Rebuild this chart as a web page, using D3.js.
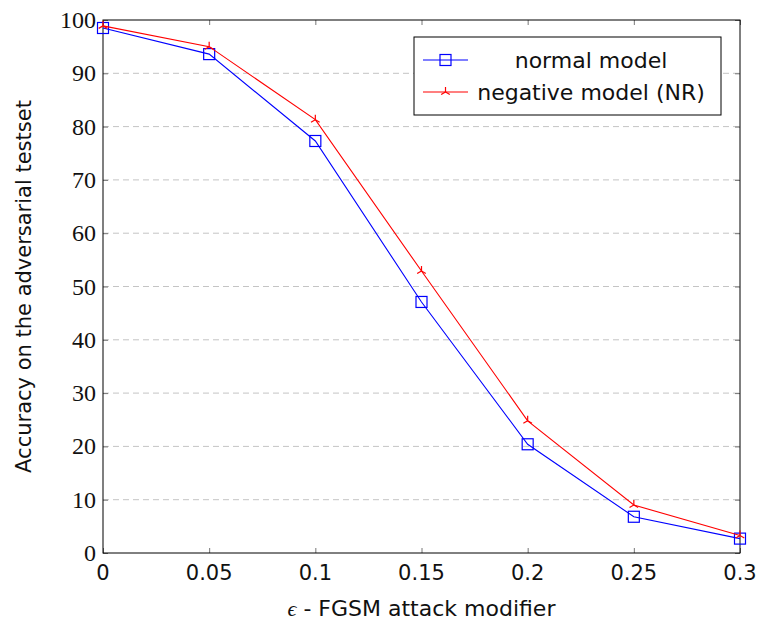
<!DOCTYPE html>
<html lang="en">
<head>
<meta charset="UTF-8">
<title>FGSM accuracy</title>
<script src="https://d3js.org/d3.v7.min.js"></script>
<style>
  body { margin: 0; background: #fff; }
  svg { display: block; }
</style>
</head>
<body>
<div id="chart"></div>
<script>
// data
var epsilons = [0, 0.05, 0.1, 0.15, 0.2, 0.25, 0.3];
var normalModel = [98.5, 93.6, 77.3, 47.1, 20.4, 6.8, 2.7];
var negativeModel = [98.9, 95.0, 81.3, 52.9, 24.8, 9.0, 3.3];
var xTicks = [0, 0.05, 0.1, 0.15, 0.2, 0.25, 0.3];
var xTickLabels = ['0', '0.05', '0.1', '0.15', '0.2', '0.25', '0.3'];
var yTicks = [0, 10, 20, 30, 40, 50, 60, 70, 80, 90, 100];
var seriesNames = ['normal model', 'negative model (NR)'];

var width = 762, height = 625;
var plotLeft = 103, plotRight = 740, plotTop = 20, plotBottom = 553;
var sansFont = "'DejaVu Sans', 'Open Sans', sans-serif";
var serifFont = "'Liberation Serif', 'DejaVu Serif', serif";

var svg = d3.select('#chart').append('svg')
    .attr('width', width)
    .attr('height', height);

var x = d3.scaleLinear().domain([0, 0.3]).range([plotLeft, plotRight]);
var y = d3.scaleLinear().domain([0, 100]).range([plotBottom, plotTop]);

// grid lines
svg.append('g')
    .selectAll('line')
    .data(yTicks.filter(d => d > 0 && d < 100))
    .join('line')
    .attr('x1', plotLeft).attr('x2', plotRight)
    .attr('y1', d => y(d)).attr('y2', d => y(d))
    .attr('stroke', '#c4c4c4')
    .attr('stroke-width', 1)
    .attr('stroke-dasharray', '6,4');

// ticks (inward, on all sides)
var tickLen = 5;
function ticks(axis, tx, ty) {
    svg.append('g')
        .attr('transform', 'translate(' + tx + ',' + ty + ')')
        .call(axis.tickSize(-tickLen).tickFormat(''))
        .call(g => g.select('.domain').remove())
        .selectAll('line').attr('stroke', '#777');
}
ticks(d3.axisBottom(x).tickValues(xTicks), 0, plotBottom);
ticks(d3.axisTop(x).tickValues(xTicks), 0, plotTop);
ticks(d3.axisLeft(y).tickValues(yTicks), plotLeft, 0);
ticks(d3.axisRight(y).tickValues(yTicks), plotRight, 0);

// frame
svg.append('rect')
    .attr('x', plotLeft).attr('y', plotTop)
    .attr('width', plotRight - plotLeft).attr('height', plotBottom - plotTop)
    .attr('fill', 'none')
    .attr('stroke', '#000')
    .attr('stroke-width', 1);

// y tick labels
svg.append('g')
    .selectAll('text')
    .data(yTicks)
    .join('text')
    .attr('x', plotLeft - 7)
    .attr('y', d => y(d) + 8)
    .attr('text-anchor', 'end')
    .style('font-family', serifFont)
    .style('font-size', '24px')
    .attr('fill', '#111')
    .text(d => d);

// x tick labels
svg.append('g')
    .selectAll('text')
    .data(xTicks)
    .join('text')
    .attr('x', d => x(d))
    .attr('y', plotBottom + 27)
    .attr('text-anchor', 'middle')
    .style('font-family', sansFont)
    .style('font-size', '21px')
    .attr('fill', '#111')
    .text((d, i) => xTickLabels[i]);

// axis labels
svg.append('text')
    .attr('x', (plotLeft + plotRight) / 2)
    .attr('y', 616)
    .attr('text-anchor', 'middle')
    .style('font-family', sansFont)
    .style('font-size', '22px')
    .attr('fill', '#111')
    .html('<tspan style="font-family: ' + serifFont.replace(/'/g, '') + '; font-style: italic">\u03f5</tspan>\u00a0- FGSM attack modifier');

svg.append('text')
    .attr('transform', 'translate(31,' + ((plotTop + plotBottom) / 2) + ') rotate(-90)')
    .attr('text-anchor', 'middle')
    .style('font-family', sansFont)
    .style('font-size', '21px')
    .attr('fill', '#111')
    .text('Accuracy on the adversarial testset');

var line = d3.line()
    .x((d, i) => x(epsilons[i]))
    .y(d => y(d));

function squareMark(g, cx, cy) {
    g.append('rect')
        .attr('x', cx - 5.5).attr('y', cy - 5.5)
        .attr('width', 11).attr('height', 11)
        .attr('fill', 'none')
        .attr('stroke', '#0000ff')
        .attr('stroke-width', 1.2);
}

function triMark(g, cx, cy) {
    var r = 5;
    [90, 210, 330].forEach(function(a) {
        var rad = a * Math.PI / 180;
        g.append('line')
            .attr('x1', cx).attr('y1', cy)
            .attr('x2', cx + r * Math.cos(rad))
            .attr('y2', cy - r * Math.sin(rad))
            .attr('stroke', '#ff0000')
            .attr('stroke-width', 1.2);
    });
}

// normal model
svg.append('path')
    .datum(normalModel)
    .attr('d', line)
    .attr('fill', 'none')
    .attr('stroke', '#0000ff')
    .attr('stroke-width', 1.1);
var gN = svg.append('g');
normalModel.forEach((v, i) => squareMark(gN, x(epsilons[i]), y(v)));

// negative model
svg.append('path')
    .datum(negativeModel)
    .attr('d', line)
    .attr('fill', 'none')
    .attr('stroke', '#ff0000')
    .attr('stroke-width', 1.1);
var gR = svg.append('g');
negativeModel.forEach((v, i) => triMark(gR, x(epsilons[i]), y(v)));

// legend
var lg = svg.append('g');
lg.append('rect')
    .attr('x', 414).attr('y', 37)
    .attr('width', 307).attr('height', 78)
    .attr('fill', '#fff')
    .attr('stroke', '#000')
    .attr('stroke-width', 1);
var rows = [60, 92];
seriesNames.forEach(function(name, i) {
    var cy = rows[i];
    var col = i === 0 ? '#0000ff' : '#ff0000';
    lg.append('line')
        .attr('x1', 423).attr('x2', 468)
        .attr('y1', cy).attr('y2', cy)
        .attr('stroke', col).attr('stroke-width', 1.1);
    if (i === 0) squareMark(lg, 445.5, cy); else triMark(lg, 445.5, cy);
    lg.append('text')
        .attr('x', 591)
        .attr('y', cy + 8)
        .attr('text-anchor', 'middle')
        .style('font-family', sansFont)
        .style('font-size', '22px')
        .attr('fill', '#111')
        .text(name);
});
</script>
</body>
</html>
